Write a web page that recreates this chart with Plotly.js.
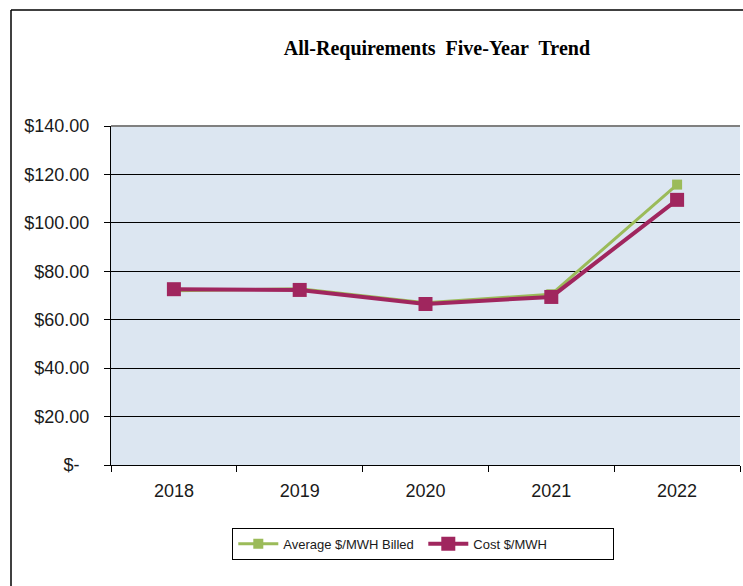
<!DOCTYPE html>
<html>
<head>
<meta charset="utf-8">
<script src="https://cdn.plot.ly/plotly-3.0.1.min.js"></script>
<style>
  html, body { margin: 0; padding: 0; background: #ffffff; }
  #chart { width: 743px; height: 586px; }
</style>
</head>
<body>
<div id="chart"></div>
<script>
// ---- data ----
const years = ["2018", "2019", "2020", "2021", "2022"];
const averageBilled = [72.0, 72.8, 67.0, 70.5, 115.8];
const costPerMWH = [72.6, 72.3, 66.5, 69.4, 109.5];
const yTickValues = [0, 20, 40, 60, 80, 100, 120, 140];
const yTickLabels = ["$-&nbsp;&nbsp;", "$20.00", "$40.00", "$60.00", "$80.00", "$100.00", "$120.00", "$140.00"];
const seriesNames = ["Average $/MWH Billed", "Cost $/MWH"];
const chartTitle = "All-Requirements&nbsp; Five-Year&nbsp; Trend";

const sansFont = '"Liberation Sans Narrow", "Arial Narrow", "Liberation Sans", Arial, sans-serif';

const traces = [
  {
    x: years, y: averageBilled, name: seriesNames[0],
    type: "scatter", mode: "lines+markers",
    line: { color: "#9bbb59", width: 3 },
    marker: { symbol: "square", size: 10, color: "#9bbb59" }
  },
  {
    x: years, y: costPerMWH, name: seriesNames[1],
    type: "scatter", mode: "lines+markers",
    line: { color: "#a0265e", width: 4 },
    marker: { symbol: "square", size: 14, color: "#a0265e" }
  }
];

const layout = {
  width: 743, height: 586,
  margin: { l: 111, r: 3, t: 126, b: 121, pad: 0 },
  paper_bgcolor: "#ffffff",
  plot_bgcolor: "#dce6f1",
  showlegend: true,
  title: {
    text: "<b>" + chartTitle + "</b>",
    font: { family: '"Liberation Serif", "Times New Roman", serif', size: 20, color: "#000000" },
    x: 0.588, xref: "container", xanchor: "center",
    y: 1 - 48 / 586, yref: "container", yanchor: "middle"
  },
  xaxis: {
    type: "category",
    range: [-0.5, 4.5],
    showgrid: false,
    showline: true, linecolor: "#000000", linewidth: 1,
    ticks: "outside", tickson: "boundaries", ticklen: 6, tickcolor: "#000000",
    tickfont: { family: sansFont, size: 18, color: "#1a1a1a" },
    ticklabelstandoff: 9,
    zeroline: false,
    fixedrange: true
  },
  yaxis: {
    range: [0, 140],
    tickvals: yTickValues,
    ticktext: yTickLabels,
    showgrid: true, gridcolor: "#000000", gridwidth: 1,
    showline: true, linecolor: "#000000", linewidth: 1,
    ticks: "outside", ticklen: 6, tickcolor: "#000000",
    tickfont: { family: sansFont, size: 18, color: "#1a1a1a" },
    ticklabelstandoff: 11,
    zeroline: false,
    fixedrange: true
  },
  legend: {
    orientation: "h",
    x: 0.4965, xanchor: "center",
    y: -0.185, yanchor: "top",
    bordercolor: "#000000", borderwidth: 1,
    bgcolor: "#ffffff",
    font: { family: sansFont, size: 13, color: "#1a1a1a" },
    entrywidth: 135,
    itemwidth: 40
  },
  shapes: [
    // gray top border of plot area
    { type: "line", xref: "paper", yref: "paper", x0: 0, x1: 1, y0: 1, y1: 1,
      line: { color: "#808080", width: 2 } },
    // outer frame (left and top)
    { type: "line", xref: "paper", yref: "paper",
      x0: (11 - 111) / 629, x1: (11 - 111) / 629, y0: (465 - 590) / 339, y1: (465 - 10) / 339,
      line: { color: "#000000", width: 1.5 } },
    { type: "line", xref: "paper", yref: "paper",
      x0: (11 - 111) / 629, x1: (745 - 111) / 629, y0: (465 - 10) / 339, y1: (465 - 10) / 339,
      line: { color: "#000000", width: 1.5 } }
  ]
};

Plotly.newPlot("chart", traces, layout, { displayModeBar: false, staticPlot: true });
</script>
</body>
</html>
